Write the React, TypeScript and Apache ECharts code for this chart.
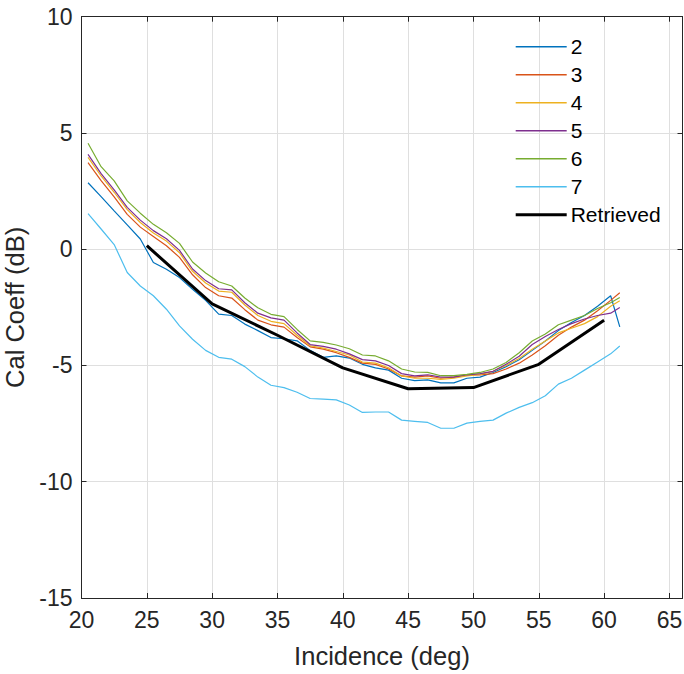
import React, { useEffect, useRef } from "react";
import * as echarts from "echarts";

const incidence = [
  20.5, 21.5, 22.5, 23.5, 24.5, 25.5, 26.5, 27.5, 28.5, 29.5, 30.5, 31.5, 32.5, 33.5,
  34.5, 35.5, 36.5, 37.5, 38.5, 39.5, 40.5, 41.5, 42.5, 43.5, 44.5, 45.5, 46.5, 47.5,
  48.5, 49.5, 50.5, 51.5, 52.5, 53.5, 54.5, 55.5, 56.5, 57.5, 58.5, 59.5, 60.5, 61.2,
];

const beam2 = [
  2.86, 2.26, 1.65, 1.05, 0.44, -0.57, -0.86, -1.22, -1.72, -2.2, -2.79, -2.85, -3.22, -3.5,
  -3.8, -3.85, -3.94, -4.35, -4.65, -4.59, -4.68, -4.95, -5.1, -5.2, -5.55, -5.65, -5.62, -5.75,
  -5.75, -5.55, -5.5, -5.3, -5.05, -4.75, -4.35, -3.95, -3.5, -3.15, -2.85, -2.45, -2.0, -3.34,
];
const beam3 = [
  3.72, 2.95, 2.25, 1.5, 0.95, 0.55, 0.15, -0.35, -1.1, -1.65, -2.0, -2.1, -2.6, -3.05,
  -3.25, -3.35, -3.8, -4.2, -4.3, -4.45, -4.65, -4.9, -4.95, -5.15, -5.45, -5.5, -5.45, -5.55,
  -5.5, -5.4, -5.4, -5.35, -5.15, -4.9, -4.55, -4.15, -3.7, -3.35, -3.05, -2.65, -2.2, -1.87,
];
const beam4 = [
  3.95, 3.15, 2.45, 1.7, 1.15, 0.7, 0.35, -0.15, -0.95, -1.45, -1.8, -1.85, -2.4, -2.85,
  -3.1, -3.2, -3.7, -4.15, -4.25, -4.4, -4.55, -4.85, -4.9, -5.1, -5.45, -5.55, -5.55, -5.6,
  -5.55, -5.45, -5.38, -5.25, -5.0, -4.7, -4.3, -3.95, -3.6, -3.4, -3.2, -2.9, -2.45, -2.22,
];
const beam5 = [
  4.08, 3.25, 2.55, 1.8, 1.25, 0.8, 0.45, -0.05, -0.85, -1.35, -1.7, -1.75, -2.3, -2.75,
  -2.95, -3.05, -3.6, -4.1, -4.18, -4.3, -4.5, -4.75, -4.8, -5.0, -5.35, -5.45, -5.4, -5.5,
  -5.5, -5.4, -5.35, -5.25, -4.95, -4.6, -4.1, -3.75, -3.45, -3.2, -3.0, -2.85, -2.75, -2.51,
];
const beam6 = [
  4.56, 3.55, 2.94, 2.08, 1.55, 1.07, 0.71, 0.25, -0.55, -1.02, -1.4, -1.58, -2.1, -2.52,
  -2.8, -2.9, -3.45, -3.94, -4.01, -4.12, -4.28, -4.55, -4.59, -4.8, -5.15, -5.28, -5.3, -5.44,
  -5.44, -5.38, -5.3, -5.15, -4.87, -4.45, -3.95, -3.65, -3.25, -3.05, -2.85, -2.55, -2.3, -2.08,
];
const beam7 = [
  1.53, 0.87, 0.2, -1.0, -1.58, -2.0, -2.58, -3.3, -3.87, -4.35, -4.65, -4.73, -5.05, -5.5,
  -5.85, -5.95, -6.15, -6.42, -6.45, -6.48, -6.7, -7.02, -7.0, -7.0, -7.35, -7.4, -7.45, -7.7,
  -7.7, -7.48, -7.4, -7.35, -7.05, -6.8, -6.6, -6.3, -5.8, -5.55, -5.2, -4.85, -4.5, -4.16,
];

const retrievedIncidence = [25, 30, 35, 40, 45, 50, 55, 60];
const retrieved = [0.15, -2.35, -3.7, -5.1, -6.0, -5.95, -4.95, -3.05];

const seriesNames = ["2", "3", "4", "5", "6", "7"];
const seriesValues = [beam2, beam3, beam4, beam5, beam6, beam7];
const seriesColors = ["#0072BD", "#D95319", "#EDB120", "#7E2F8E", "#77AC30", "#4DBEEE"];

const FONT = "'Liberation Sans', Arial, Helvetica, sans-serif";
const AXIS_COLOR = "#262626";
const GRID_COLOR = "#DFDFDF";

export default function App() {
  const ref = useRef<HTMLDivElement>(null);

  useEffect(() => {
    if (!ref.current) return;
    const chart = echarts.init(ref.current, undefined, { renderer: "svg" });

    const lineSeries: any[] = seriesNames.map((name, i) => ({
      name,
      type: "line",
      data: incidence.map((x, j) => [x, seriesValues[i][j]]),
      symbol: "none",
      lineStyle: { color: seriesColors[i], width: 1.2 },
      itemStyle: { color: seriesColors[i] },
      z: 2,
    }));
    lineSeries.push({
      name: "Retrieved",
      type: "line",
      data: retrievedIncidence.map((x, j) => [x, retrieved[j]]),
      symbol: "none",
      lineStyle: { color: "#000000", width: 3 },
      itemStyle: { color: "#000000" },
      z: 3,
    });

    const baseAxisLine = { show: true, onZero: false, lineStyle: { color: AXIS_COLOR, width: 1 } };
    const baseTick = { show: true, inside: true, length: 5, lineStyle: { color: AXIS_COLOR } };

    const legendData = [
      ...seriesNames.map((name, i) => ({
        name,
        icon: "path://M0,0H51V1.4H0Z",
        itemStyle: { color: seriesColors[i], borderWidth: 0 },
      })),
      {
        name: "Retrieved",
        icon: "path://M0,0H51V3H0Z",
        itemStyle: { color: "#000000", borderWidth: 0 },
      },
    ];

    chart.setOption({
      animation: false,
      backgroundColor: "#ffffff",
      grid: {
        left: 81.5,
        right: 1.5,
        top: 16.7,
        bottom: 76,
        containLabel: false,
        outerBoundsMode: "none",
      },
      legend: {
        orient: "vertical",
        left: 515.7,
        top: 36.2,
        padding: 0,
        itemWidth: 51,
        itemHeight: 14,
        itemGap: 7,
        symbolKeepAspect: true,
        textStyle: { fontFamily: FONT, fontSize: 21, lineHeight: 21, color: "#000000", padding: [0, 0, 0, -1] },
        data: legendData,
      },
      xAxis: [
        {
          type: "value",
          min: 20,
          max: 66,
          interval: 5,
          position: "bottom",
          name: "Incidence (deg)",
          nameLocation: "middle",
          nameGap: 45,
          nameTextStyle: { fontFamily: FONT, fontSize: 25.5, color: AXIS_COLOR },
          axisLine: baseAxisLine,
          axisTick: baseTick,
          axisLabel: {
            fontFamily: FONT,
            fontSize: 23,
            color: AXIS_COLOR,
            margin: 10,
            showMaxLabel: false,
          },
          splitLine: { show: true, lineStyle: { color: GRID_COLOR, width: 1 } },
        },
        {
          type: "value",
          min: 20,
          max: 66,
          interval: 5,
          position: "top",
          axisLine: baseAxisLine,
          axisTick: baseTick,
          axisLabel: { show: false },
          splitLine: { show: false },
        },
      ],
      yAxis: [
        {
          type: "value",
          min: -15,
          max: 10,
          interval: 5,
          position: "left",
          name: "Cal Coeff (dB)",
          nameLocation: "middle",
          nameGap: 46,
          nameTextStyle: { fontFamily: FONT, fontSize: 25.5, color: AXIS_COLOR },
          axisLine: baseAxisLine,
          axisTick: baseTick,
          axisLabel: { fontFamily: FONT, fontSize: 23, color: AXIS_COLOR, margin: 9 },
          splitLine: { show: true, lineStyle: { color: GRID_COLOR, width: 1 } },
        },
        {
          type: "value",
          min: -15,
          max: 10,
          interval: 5,
          position: "right",
          axisLine: baseAxisLine,
          axisTick: baseTick,
          axisLabel: { show: false },
          splitLine: { show: false },
        },
      ],
      series: lineSeries,
    });

    return () => chart.dispose();
  }, []);

  return <div ref={ref} style={{ width: 684, height: 674, position: "absolute", left: 0, top: 0 }} />;
}
